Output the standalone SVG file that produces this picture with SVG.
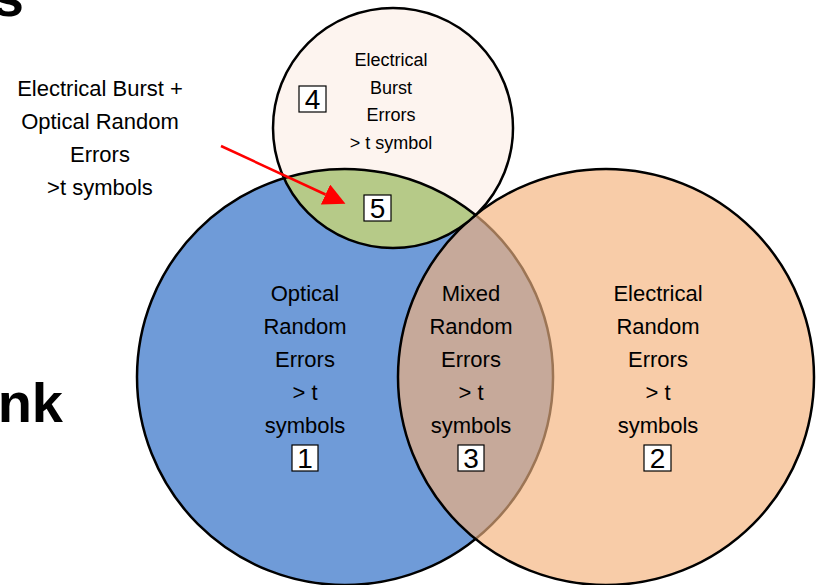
<svg xmlns="http://www.w3.org/2000/svg" width="817" height="585" viewBox="0 0 817 585">
<style>
text{font-family:"Liberation Sans",Arial,sans-serif;fill:#000}
.lbl{font-size:22px;text-anchor:middle}
.sm{font-size:18px;text-anchor:middle}
.num{font-size:28px;text-anchor:middle}
.ttl{font-size:56px;font-weight:bold;text-anchor:end}
.box{fill:#fff;stroke:#000;stroke-width:1.2}
.edge{fill:none;stroke:#000;stroke-width:2.5}
</style>
<defs>
<marker id="ah" markerUnits="userSpaceOnUse" markerWidth="24" markerHeight="24" refX="0" refY="11" orient="auto">
<path d="M0,0 L22,11 L0,22 Z" fill="#ff0000"/>
</marker>
</defs>
<rect width="817" height="585" fill="#fff"/>
<text class="ttl" x="24" y="16">s</text>
<text class="ttl" x="63" y="422">nk</text>

<g id="optical">
<circle cx="345" cy="377" r="208" fill="#6F9BD8" stroke="#000" stroke-width="2.5"/>
</g>
<g id="electrical">
<circle cx="606" cy="377" r="208" fill="#F8CCA8"/>
</g>
<g id="mixed">
<path d="M475.5 215 A208 208 0 0 1 475.5 539 A208 208 0 0 1 475.5 215 Z" fill="#C6A99A"/>
<path d="M475.5 215 A208 208 0 0 1 475.5 539" fill="none" stroke="#9C7555" stroke-width="2.5"/>
<circle cx="606" cy="377" r="208" class="edge"/>
</g>
<g id="burst">
<circle cx="393" cy="128" r="120" fill="#FDF4EF"/>
</g>
<g id="burst-optical">
<path d="M283.98 178.15 A208 208 0 0 1 475.56 215.09 A120 120 0 0 1 283.98 178.15 Z" fill="#B6CA88"/>
<path d="M283.98 178.15 A208 208 0 0 1 475.56 215.09" class="edge"/>
<circle cx="393" cy="128" r="120" class="edge"/>
</g>

<g id="labels">
<text class="lbl" x="305" y="301">Optical</text>
<text class="lbl" x="305" y="334">Random</text>
<text class="lbl" x="305" y="367">Errors</text>
<text class="lbl" x="305" y="400">&gt; t</text>
<text class="lbl" x="305" y="433">symbols</text>
<rect class="box" x="292" y="445" width="26" height="26"/>
<text class="num" x="305" y="468">1</text>

<text class="lbl" x="471" y="301">Mixed</text>
<text class="lbl" x="471" y="334">Random</text>
<text class="lbl" x="471" y="367">Errors</text>
<text class="lbl" x="471" y="400">&gt; t</text>
<text class="lbl" x="471" y="433">symbols</text>
<rect class="box" x="458" y="445" width="26" height="26"/>
<text class="num" x="471" y="468">3</text>

<text class="lbl" x="658" y="301">Electrical</text>
<text class="lbl" x="658" y="334">Random</text>
<text class="lbl" x="658" y="367">Errors</text>
<text class="lbl" x="658" y="400">&gt; t</text>
<text class="lbl" x="658" y="433">symbols</text>
<rect class="box" x="644" y="445" width="27" height="26"/>
<text class="num" x="657.5" y="468">2</text>

<text class="sm" x="391" y="66">Electrical</text>
<text class="sm" x="391" y="94">Burst</text>
<text class="sm" x="391" y="121">Errors</text>
<text class="sm" x="391" y="149">&gt; t symbol</text>
<rect class="box" x="299" y="86" width="27" height="26"/>
<text class="num" x="312.5" y="109">4</text>
<rect class="box" x="364" y="195" width="27" height="26"/>
<text class="num" x="377.5" y="218">5</text>

<text class="lbl" x="100" y="96">Electrical Burst +</text>
<text class="lbl" x="100" y="129">Optical Random</text>
<text class="lbl" x="100" y="162">Errors</text>
<text class="lbl" x="100" y="195">&gt;t symbols</text>
</g>

<g id="connectors">
<line x1="221" y1="146" x2="325.5" y2="194.5" stroke="#ff0000" stroke-width="2.5" marker-end="url(#ah)"/>
</g>
</svg>
